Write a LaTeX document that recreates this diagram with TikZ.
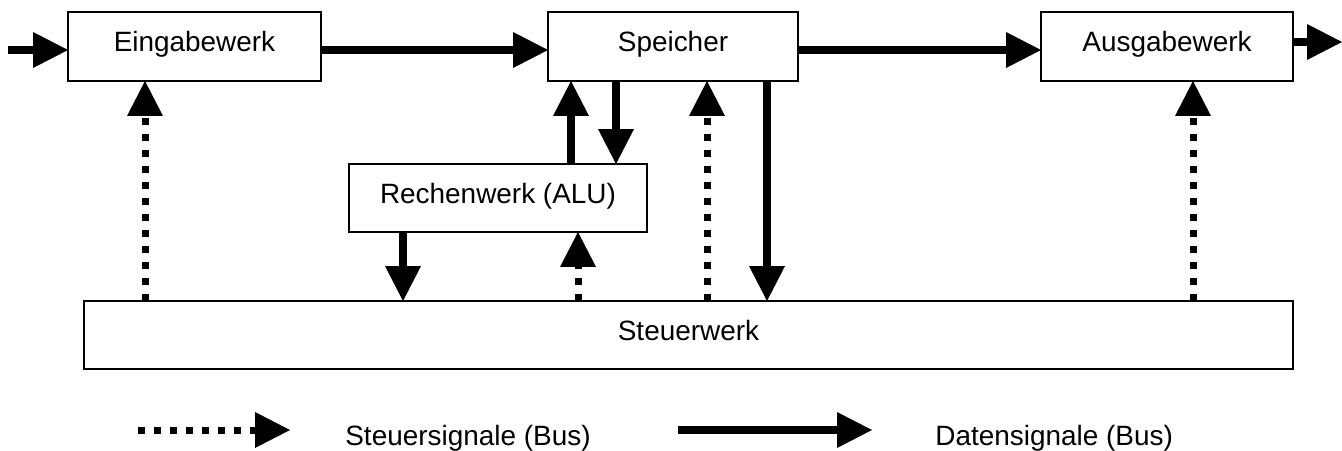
\documentclass[tikz,border=0pt]{standalone}
\usepackage{fontspec}
\setmainfont{Liberation Sans}
\usetikzlibrary{arrows.meta}

\begin{document}
\begin{tikzpicture}[x=0.02cm,y=-0.02cm,
    box/.style={draw,line width=1.1pt,inner sep=0pt,outer sep=0pt,text height=12pt,text depth=6pt,font=\fontsize{15.9}{19}\selectfont},
    legendtext/.style={anchor=base west,inner sep=0pt,font=\fontsize{15.9}{19}\selectfont},
    data/.style={line width=0.16cm,-{Triangle[length=0.7cm,width=0.72cm,line width=0pt]}},
    ctrl/.style={line width=0.14cm,dash pattern=on 0.14cm off 0.18cm,-{Triangle[length=0.7cm,width=0.72cm,line width=0pt]}}]
	\useasboundingbox (0,0) rectangle (1342,450);
	\node[box,minimum width=5.06cm,minimum height=1.38cm] (eingabe) at (194.5,46.5) {Eingabewerk};
	\node[box,minimum width=5cm,minimum height=1.38cm] (speicher) at (673,46.5) {Speicher};
	\node[box,minimum width=5.04cm,minimum height=1.38cm] (ausgabe) at (1167,46.5) {Ausgabewerk};
	\node[box,minimum width=5.96cm,minimum height=1.36cm] (alu) at (498,198) {Rechenwerk (ALU)};
	\node[box,minimum width=24.18cm,minimum height=1.36cm] (steuer) at (688.5,335) {Steuerwerk};
	\coordinate (in) at (8,50);
	\coordinate (out) at (1342,42);
	\draw[data] (in) -- (in -| eingabe.west);
	\draw[data] (eingabe.east |- in) -- (speicher.west |- in);
	\draw[data] (speicher.east |- in) -- (ausgabe.west |- in);
	\draw[data] (ausgabe.east |- out) -- (out);
	\draw[data] (alu.north -| 571,0) -- (speicher.south -| 571,0);
	\draw[data] (speicher.south -| 616,0) -- (alu.north -| 616,0);
	\draw[data] (speicher.south -| 767,0) -- (steuer.north -| 767,0);
	\draw[data] (alu.south -| 403,0) -- (steuer.north -| 403,0);
	\draw[ctrl] (steuer.north -| 145,0) -- (eingabe.south -| 145,0);
	\draw[ctrl] (steuer.north -| 578,0) -- (alu.south -| 578,0);
	\draw[ctrl] (steuer.north -| 707,0) -- (speicher.south -| 707,0);
	\draw[ctrl] (steuer.north -| 1193,0) -- (ausgabe.south -| 1193,0);
	% legend
	\coordinate (ctrlstart) at (138,430);
	\coordinate (ctrlend) at (290,430);
	\draw[ctrl] (ctrlstart) -- (ctrlend);
	\node[legendtext] (ctrltext) at (345,445) {Steuersignale (Bus)};
	\coordinate (datastart) at (678,430);
	\coordinate (dataend) at (872,430);
	\draw[data] (datastart) -- (dataend);
	\node[legendtext] (datatext) at (935,445) {Datensignale (Bus)};
\end{tikzpicture}
\end{document}
